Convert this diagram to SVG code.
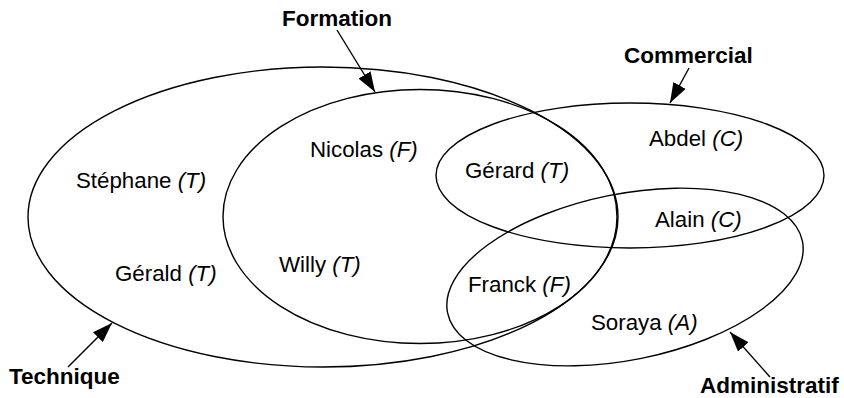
<svg xmlns="http://www.w3.org/2000/svg" width="844" height="398" viewBox="0 0 844 398">
<style>
.set{fill:none;stroke:#000;stroke-width:1.4}
.lbl{font-family:"Liberation Sans",Arial,sans-serif;font-weight:bold;font-size:22.5px;fill:#000}
.nm{font-family:"Liberation Sans",Arial,sans-serif;font-size:22.3px;fill:#000}
.nm tspan{font-style:italic}
.arr{stroke:#000;stroke-width:1.4;fill:none;marker-end:url(#ah)}
</style>
<defs>
<marker id="ah" markerUnits="userSpaceOnUse" markerWidth="20" markerHeight="14" refX="20" refY="7" orient="auto">
<path d="M0,0 L20,7 L0,14 Z" fill="#000"/>
</marker>
</defs>
<rect width="844" height="398" fill="#fff"/>
<g id="technique">
<ellipse class="set" cx="323" cy="217" rx="295" ry="150"/>
<text class="lbl" x="9" y="384">Technique</text>
</g>
<g id="formation">
<ellipse class="set" cx="420" cy="216.5" rx="197" ry="127"/>
<text class="lbl" x="282" y="26">Formation</text>
</g>
<g id="commercial">
<ellipse class="set" cx="630" cy="175.5" rx="194" ry="72.5"/>
<text class="lbl" x="624" y="63">Commercial</text>
</g>
<g id="administratif">
<ellipse class="set" cx="625" cy="277" rx="181" ry="83" transform="rotate(-11.4 625 277)"/>
<text class="lbl" x="700" y="393">Administratif</text>
</g>
<g id="members">
<text id="stephane" class="nm" x="76" y="188">Stéphane <tspan>(T)</tspan></text>
<text id="gerald" class="nm" x="115" y="281">Gérald <tspan>(T)</tspan></text>
<text id="nicolas" class="nm" x="310" y="157">Nicolas <tspan>(F)</tspan></text>
<text id="willy" class="nm" x="279" y="272">Willy <tspan>(T)</tspan></text>
<text id="gerard" class="nm" x="465" y="178">Gérard <tspan>(T)</tspan></text>
<text id="abdel" class="nm" x="649" y="146">Abdel <tspan>(C)</tspan></text>
<text id="alain" class="nm" x="655" y="227">Alain <tspan>(C)</tspan></text>
<text id="franck" class="nm" x="468" y="292">Franck <tspan>(F)</tspan></text>
<text id="soraya" class="nm" x="591" y="330">Soraya <tspan>(A)</tspan></text>
</g>
<g id="connectors">
<line class="arr" x1="337" y1="30" x2="375" y2="92"/>
<line class="arr" x1="689" y1="68" x2="670" y2="103"/>
<line class="arr" x1="68" y1="367" x2="112" y2="323"/>
<line class="arr" x1="770" y1="377" x2="730" y2="332"/>
</g>
</svg>
